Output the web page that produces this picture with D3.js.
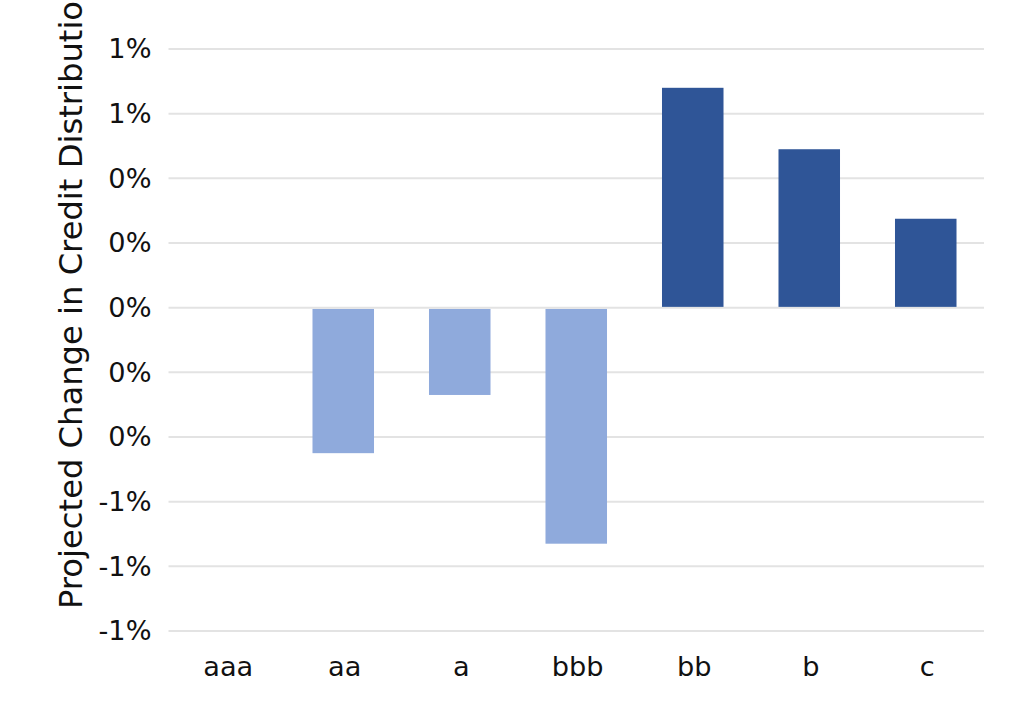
<!DOCTYPE html>
<html>
<head>
<meta charset="utf-8">
<script src="https://cdn.jsdelivr.net/npm/d3@7/dist/d3.min.js"></script>
<style>
  html, body { margin: 0; padding: 0; background: #ffffff; }
  svg { display: block; }
</style>
</head>
<body>
<svg id="chart" width="1024" height="712"></svg>
<script>
// ---- data ----
const categories = ["aaa", "aa", "a", "bbb", "bb", "b", "c"];
const changes = [0, -0.0045, -0.0027, -0.0073, 0.0068, 0.0049, 0.00275];
const yTicks = [-0.010, -0.008, -0.006, -0.004, -0.002, 0, 0.002, 0.004, 0.006, 0.008];
const yTitle = "Projected Change in Credit Distribution";

// ---- layout ----
const W = 1024, H = 712;
const plot = { left: 168.5, right: 984, top: 49, bottom: 631 };
const font = "'DejaVu Sans', sans-serif";
const posColor = "#2F5597", negColor = "#8FAADC";

const svg = d3.select("#chart");

const x = d3.scaleBand()
  .domain(categories)
  .range([plot.left, plot.right])
  .paddingInner(0.472)
  .paddingOuter(0.236);

const y = d3.scaleLinear()
  .domain([-0.010, 0.008])
  .range([plot.bottom, plot.top]);

const locale = d3.formatLocale({ decimal: ".", thousands: ",", grouping: [3], currency: ["$", ""], minus: "-" });
const fmt = locale.format(".0%");

// gridlines
svg.append("g")
  .selectAll("line")
  .data(yTicks)
  .join("line")
  .attr("x1", plot.left)
  .attr("x2", plot.right)
  .attr("y1", d => y(d))
  .attr("y2", d => y(d))
  .attr("stroke", "#e3e3e3")
  .attr("stroke-width", 2);

// y axis (labels only)
const yAxis = d3.axisLeft(y)
  .tickValues(yTicks)
  .tickFormat(fmt)
  .tickSize(0)
  .tickPadding(17);
const gy = svg.append("g")
  .attr("transform", `translate(${plot.left},0)`)
  .call(yAxis);
gy.select(".domain").remove();
gy.selectAll("text")
  .attr("font-family", font)
  .attr("font-size", 27.2)
  .attr("fill", "#111");

// x axis (labels only)
const xAxis = d3.axisBottom(x).tickSize(0).tickPadding(26);
const gx = svg.append("g")
  .attr("transform", `translate(1.5,${plot.bottom})`)
  .call(xAxis);
gx.select(".domain").remove();
gx.selectAll("text")
  .attr("font-family", font)
  .attr("font-size", 27.2)
  .attr("fill", "#111");

// bars
svg.append("g")
  .selectAll("rect")
  .data(categories.map((c, i) => ({ c, v: changes[i] })).filter(d => d.v !== 0))
  .join("rect")
  .attr("x", d => x(d.c))
  .attr("width", x.bandwidth())
  .attr("y", d => d.v >= 0 ? y(d.v) : y(0) + 1.3)
  .attr("height", d => d.v >= 0 ? Math.max(0, y(0) - 0.8 - y(d.v)) : Math.max(0, y(d.v) - y(0) - 1.3))
  .attr("fill", d => d.v >= 0 ? posColor : negColor);

// y title
svg.append("text")
  .attr("transform", "translate(82,609) rotate(-90)")
  .attr("text-anchor", "start")
  .attr("font-family", font)
  .attr("font-size", 32.2)
  .attr("fill", "#111")
  .text(yTitle);
</script>
</body>
</html>
